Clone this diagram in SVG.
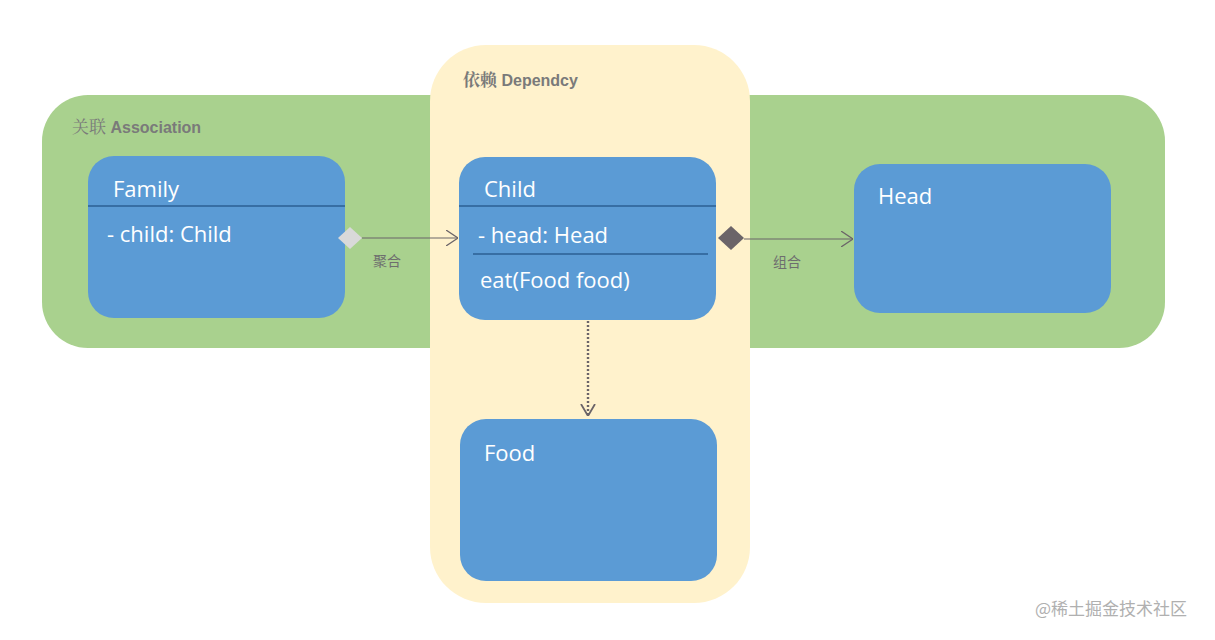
<svg xmlns="http://www.w3.org/2000/svg" width="1215" height="640" viewBox="0 0 1215 640">
<defs>
<style>
.node{fill:#5b9bd5}
.div{stroke:#2b5f93;stroke-width:1.3}
.t{font-family:"Open Sans","Noto Sans","Liberation Sans",sans-serif;font-size:22px;fill:#ffffff}
.lbl{font-family:"Liberation Sans","Noto Sans CJK SC",sans-serif;font-size:16px;font-weight:bold;fill:#7a7a7a}
.cn{font-family:"Noto Sans CJK SC",sans-serif;font-size:14px;fill:#6e6e6e}
.conn{stroke:#6b6468;stroke-width:1.2;fill:none}
</style>
<marker id="open" viewBox="0 0 12 16" refX="12" refY="8" markerWidth="12" markerHeight="16" markerUnits="userSpaceOnUse" orient="auto">
<path d="M0,0 L12,8 L0,16" fill="none" stroke="#6b6468" stroke-width="1.3"/>
</marker>
<marker id="openv" viewBox="0 0 12 16" refX="12" refY="8" markerWidth="12" markerHeight="16" markerUnits="userSpaceOnUse" orient="auto">
<path d="M0,1 L12,8 L0,15" fill="none" stroke="#6b6468" stroke-width="1.8"/>
</marker>
</defs>
<rect width="1215" height="640" fill="#ffffff"/>
<g id="association">
<rect x="42" y="95" width="1123" height="253" rx="46" fill="#a9d18e"/>
<text class="lbl" x="72" y="133"><tspan font-family="Noto Serif CJK SC,Noto Sans CJK SC,serif" font-weight="normal" font-size="17">关联</tspan> Association</text>
</g>
<g id="dependency">
<rect x="430" y="45" width="320" height="558" rx="56" fill="#fff2cc"/>
<text class="lbl" x="463" y="86"><tspan font-family="Noto Serif CJK SC,Noto Sans CJK SC,serif" font-weight="bold" font-size="17">依赖</tspan> Dependcy</text>
</g>
<g id="family">
<rect class="node" x="88" y="156" width="257" height="162" rx="26"/>
<line class="div" x1="88" y1="206" x2="345" y2="206"/>
<text class="t" x="113" y="197">Family</text>
<text class="t" x="107" y="242">- child: Child</text>
</g>
<g id="child">
<rect class="node" x="459" y="157" width="257" height="163" rx="26"/>
<line class="div" x1="459" y1="206" x2="716" y2="206"/>
<line class="div" x1="473" y1="254" x2="708" y2="254"/>
<text class="t" x="484" y="197">Child</text>
<text class="t" x="478" y="243">- head: Head</text>
<text class="t" x="480" y="288">eat(Food food)</text>
</g>
<g id="head">
<rect class="node" x="854" y="164" width="257" height="149" rx="26"/>
<text class="t" x="878" y="204">Head</text>
</g>
<g id="food">
<rect class="node" x="460" y="419" width="257" height="162" rx="26"/>
<text class="t" x="484" y="461">Food</text>
</g>
<g id="connectors">
<line class="conn" x1="362" y1="238" x2="458" y2="238" marker-end="url(#open)"/>
<path d="M338,238 L350,227 L362,238 L350,249 Z" fill="#d9d9d9"/>
<text class="cn" x="373" y="266">聚合</text>
<line class="conn" x1="744" y1="239" x2="853" y2="239" marker-end="url(#open)"/>
<path d="M718,238 L731,226 L744,238 L731,250 Z" fill="#6b6468"/>
<text class="cn" x="773" y="267">组合</text>
<line x1="588" y1="321" x2="588" y2="416" stroke="#6b6468" stroke-width="2.4" stroke-dasharray="2 2" marker-end="url(#openv)"/>
</g>
<text x="1035" y="615" font-family="Noto Sans CJK SC,sans-serif" font-size="17" fill="#b0b0b0">@稀土掘金技术社区</text>
</svg>
